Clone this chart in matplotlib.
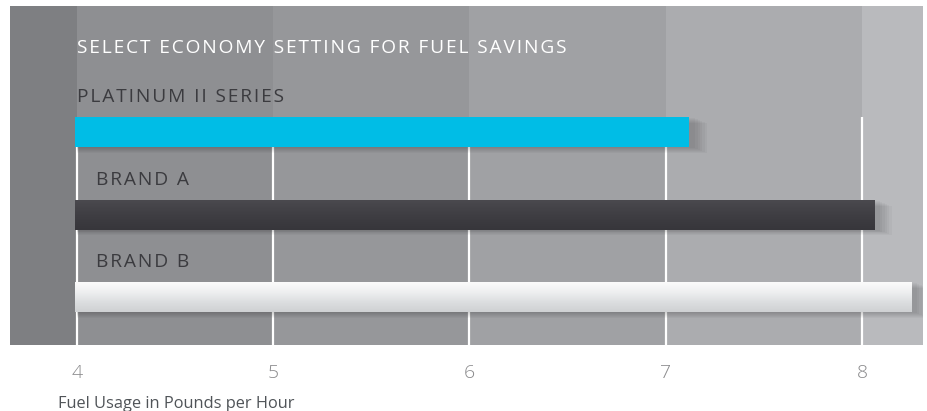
import matplotlib
matplotlib.use("Agg")
import matplotlib.pyplot as plt
import numpy as np
from matplotlib.patches import Rectangle
from matplotlib.colors import LinearSegmentedColormap

plt.rcParams['font.family'] = ['Open Sans', 'DejaVu Sans']

# data
brands = ['PLATINUM II SERIES', 'BRAND A', 'BRAND B']
fuel_usage = [7.12, 8.06, 8.25]
bar_start = 3.99
ticks = [4, 5, 6, 7, 8]
title = 'SELECT ECONOMY SETTING FOR FUEL SAVINGS'
xlabel = 'Fuel Usage in Pounds per Hour'

band_colors = ['#7e7f82', '#8e8f92', '#96979a', '#a0a1a4', '#abacaf', '#b9babd']
xmin, xmax = 3.66, 8.31


def spaced(s):
    # fake letter tracking with hair spaces
    return '\u200a'.join(s)


fig = plt.figure(figsize=(9.27, 4.11), dpi=100)
ax = fig.add_axes([10 / 927, 1 - 345 / 411, 913 / 927, 339 / 411])
ax.set_xlim(xmin, xmax)
ax.set_ylim(2.58, -1.53)

# background bands
edges = [xmin] + ticks + [xmax]
for i in range(len(edges) - 1):
    ax.axvspan(edges[i], edges[i + 1], color=band_colors[i], lw=0, zorder=0)

# grid lines (start at the top of the first bar)
h = 0.36
ax.vlines(ticks, -h / 2, 2.58, color='white', lw=1.6, zorder=1)

y = np.arange(len(brands))

# soft shadows
for k in range(6):
    off = 0.012 + k * 0.012
    for yi, v in zip(y, fuel_usage):
        ax.add_patch(Rectangle((bar_start + 0.01, yi - h / 2 + off),
                               v - bar_start + 0.02 + k * 0.012, h,
                               color='black', alpha=0.03, lw=0, zorder=2))

bars = ax.barh(y, [v - bar_start for v in fuel_usage], left=bar_start, height=h,
               color=['#00bde6', '#414045', '#e6e7e8'], zorder=3)

# gradients on dark and light bars
grad = np.linspace(0, 1, 50).reshape(-1, 1)
cm_dark = LinearSegmentedColormap.from_list('d', ['#4a494e', '#3f3e43', '#37363b'])
cm_light = LinearSegmentedColormap.from_list('l', ['#fbfbfb', '#eeeff0', '#dcdee0', '#cfd1d3'])
for b, cm in [(bars[1], cm_dark), (bars[2], cm_light)]:
    x0, y0 = b.get_x(), b.get_y()
    im = ax.imshow(grad, cmap=cm, aspect='auto', zorder=4,
                   extent=[x0, x0 + b.get_width(), y0 + h, y0])
    im.set_clip_path(b)

# labels above bars
label_x = [4.0, 4.1, 4.1]
for yi, name, lx in zip(y, brands, label_x):
    ax.text(lx, yi - 0.365, spaced(name), color='#3b3b3f', fontsize=13.8,
            va='baseline', ha='left', zorder=5)

ax.text(4.0, -0.958, spaced(title), color='white', fontsize=13.8,
        va='baseline', ha='left', zorder=5)

ax.set_xticks(ticks)
ax.set_xticklabels([str(t) for t in ticks], color='#8a8a8c', fontsize=14, fontweight='light')
ax.tick_params(axis='x', length=0, pad=14)
ax.set_yticks([])
for s in ax.spines.values():
    s.set_visible(False)

fig.text(58 / 927, 1 - 408 / 411, xlabel, color='#505458', fontsize=11.8,
         va='baseline', ha='left')

fig.savefig('out.png', dpi=100)
